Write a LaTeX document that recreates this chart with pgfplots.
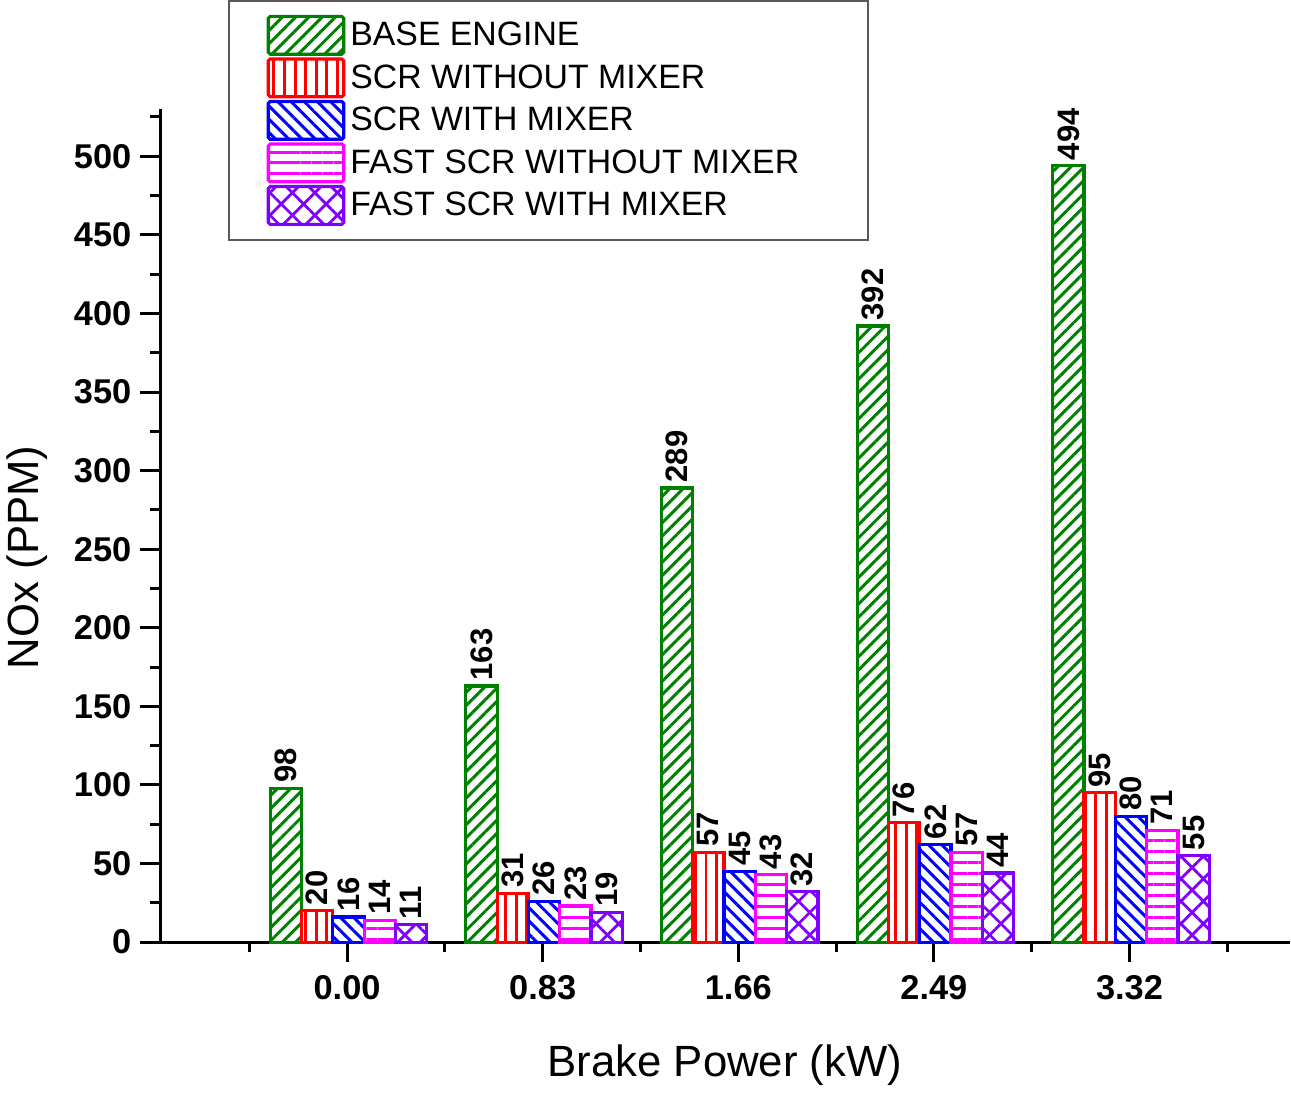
\documentclass[border=0pt]{standalone}
\usepackage{pgfplots}
\pgfplotsset{compat=1.18}
\usetikzlibrary{patterns.meta}
\usepackage{fontspec}
\setmainfont{Liberation Sans}
\definecolor{cgreen}{RGB}{0,128,0}
\definecolor{cred}{RGB}{255,0,0}
\definecolor{cblue}{RGB}{0,0,255}
\definecolor{cmag}{RGB}{255,0,255}
\definecolor{cpur}{RGB}{128,0,255}
\begin{document}
\begin{tikzpicture}
\begin{axis}[
  scale only axis,
  width=568pt, height=419pt,
  ybar=0pt, bar width=0.16,
  xmin=-0.955, xmax=4.818,
  ymin=0, ymax=530,
  axis x line*=bottom, axis y line*=left,
  axis line style={line width=1.5pt},
  every tick/.style={line width=1.5pt, black},
  tick align=outside,
  major tick length=10pt, minor tick length=5pt,
  xtick={0,1,2,3,4},
  xticklabels={0.00,0.83,1.66,2.49,3.32},
  minor xtick={-0.5,0.5,1.5,2.5,3.5,4.5},
  ytick={0,50,...,500},
  minor ytick={25,75,...,525},
  /pgf/number format/assume math mode=true,
  tick label style={font=\fontsize{17.3}{20}\selectfont\bfseries},
  xticklabel style={yshift=-3pt},
  yticklabel style={xshift=-1pt},
  xlabel={Brake Power (kW)},
  ylabel={NOx (PPM)},
  label style={font=\fontsize{22}{26}\selectfont},
  xlabel style={at={(axis description cs:0.5,-0.148)}, anchor=center},
  ylabel style={at={(axis description cs:-0.118,0.462)}, anchor=center},
  nodes near coords,
  nodes near coords style={font=\fontsize{15.6}{18}\selectfont\bfseries, rotate=90, anchor=west, inner sep=2pt, black},
  clip=false,
  legend cell align=left,
  legend image code/.code={\draw[#1, rounded corners=1pt] (0pt,-9.5pt) rectangle (38pt,9.5pt);},
  legend style={at={(0.060,1.131)}, anchor=north west, draw=black!65, line width=0.9pt,
    font=\fontsize{17}{20}\selectfont, row sep=0.8pt, inner xsep=19pt, inner ysep=7pt,
    nodes={inner sep=2.5pt}},
]
\addplot+[bar shift=-0.3126, draw=cgreen, line width=1.6pt, pattern={Lines[angle=45,distance=4.7pt,line width=1.5pt]}, pattern color=cgreen]
  coordinates {(0,98) (1,163) (2,289) (3,392) (4,494)};
\addplot+[bar shift=-0.1526, draw=cred, line width=1.6pt, pattern={Lines[angle=90,distance=5.3pt,line width=1.5pt]}, pattern color=cred]
  coordinates {(0,20) (1,31) (2,57) (3,76) (4,95)};
\addplot+[bar shift=0.0074, draw=cblue, line width=1.6pt, pattern={Lines[angle=-45,distance=4.7pt,line width=1.5pt]}, pattern color=cblue]
  coordinates {(0,16) (1,26) (2,45) (3,62) (4,80)};
\addplot+[bar shift=0.1674, draw=cmag, line width=1.6pt, pattern={Lines[angle=0,distance=5.5pt,line width=1.5pt]}, pattern color=cmag]
  coordinates {(0,14) (1,23) (2,43) (3,57) (4,71)};
\addplot+[bar shift=0.3274, draw=cpur, line width=1.6pt, pattern={Hatch[angle=45,distance=8pt,line width=1.4pt]}, pattern color=cpur]
  coordinates {(0,11) (1,19) (2,32) (3,44) (4,55)};
\legend{BASE ENGINE, SCR WITHOUT MIXER, SCR WITH MIXER, FAST SCR WITHOUT MIXER\rule{13pt}{0pt}, FAST SCR WITH MIXER}
\end{axis}
\end{tikzpicture}
\end{document}
